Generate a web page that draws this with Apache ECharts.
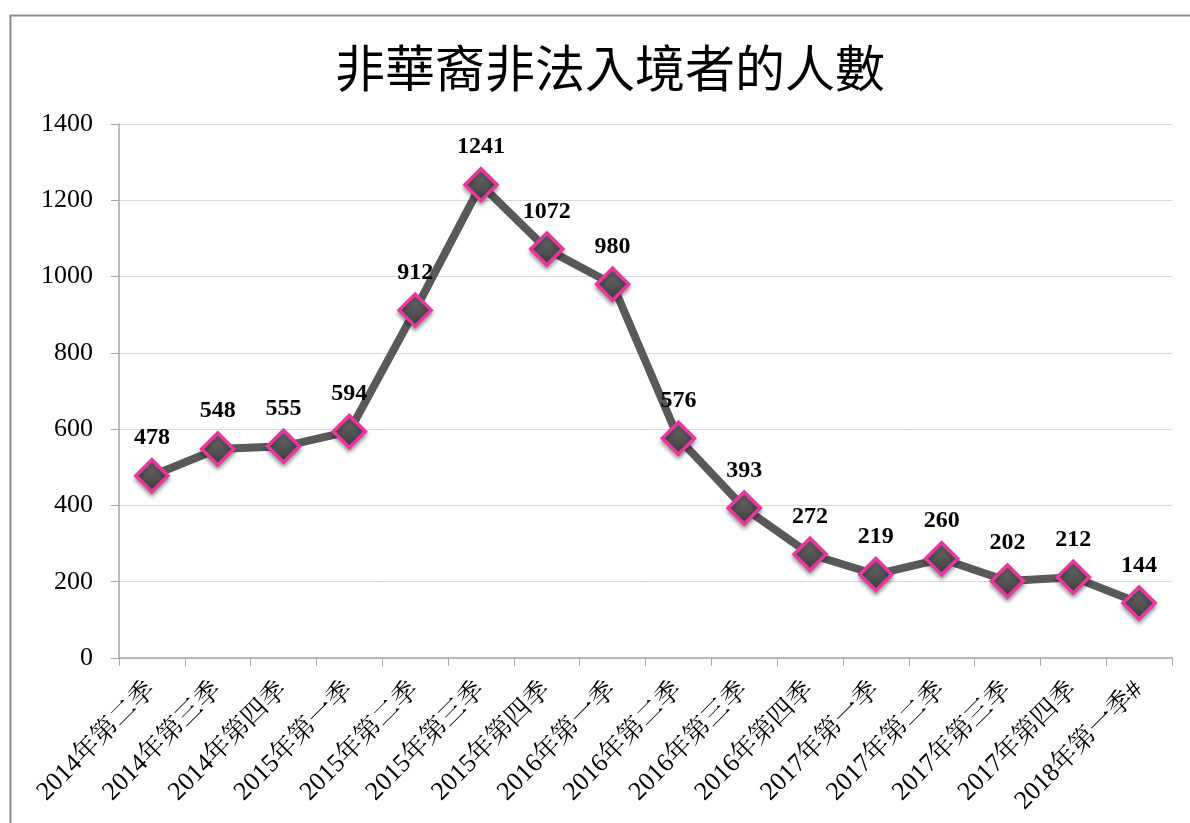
<!DOCTYPE html>
<html><head><meta charset="utf-8">
<script src="https://cdn.jsdelivr.net/npm/echarts@6/dist/echarts.min.js"></script>
<style>html,body{margin:0;padding:0;background:#fff}#c{width:1190px;height:823px}</style>
</head><body><div id="c"></div>
<script>
const title = '非華裔非法入境者的人數';
const categories = ['2014年第二季','2014年第三季','2014年第四季','2015年第一季','2015年第二季','2015年第三季','2015年第四季','2016年第一季','2016年第二季','2016年第三季','2016年第四季','2017年第一季','2017年第二季','2017年第三季','2017年第四季','2018年第一季#'];
const values = [478,548,555,594,912,1241,1072,980,576,393,272,219,260,202,212,144];
const yTicks = {min:0, max:1400, interval:200};

const chart = echarts.init(document.getElementById('c'));
chart.setOption({
  animation:false,
  backgroundColor:'#fff',
  graphic:[{type:'rect',left:8,top:13,shape:{width:1200,height:900},style:{fill:'none',stroke:'#8c8c8c',lineWidth:2}}],
  title:{text:title,left:605,top:38,textAlign:'center',textStyle:{fontFamily:'Noto Sans CJK TC',fontWeight:'normal',fontSize:50,color:'#000'}},
  grid:{left:119,right:18,top:124,bottom:165,containLabel:false},
  xAxis:{type:'category',data:categories,boundaryGap:true,
    axisLine:{lineStyle:{color:'#a6a6a6',width:1.5}},
    axisTick:{show:true,length:8,lineStyle:{color:'#a6a6a6'},alignWithLabel:false},
    axisLabel:{rotate:45,interval:0,margin:28,fontSize:26,color:'#000',fontFamily:'Liberation Serif, Noto Serif CJK TC, Noto Sans CJK TC'}},
  yAxis:{type:'value',min:yTicks.min,max:yTicks.max,interval:yTicks.interval,
    axisLine:{show:true,lineStyle:{color:'#a6a6a6',width:1.5}},
    axisTick:{show:true,length:8,lineStyle:{color:'#a6a6a6'}},
    axisLabel:{margin:26,fontSize:26,color:'#000',fontFamily:'Liberation Serif',formatter:function(v){return String(v);}},
    splitLine:{lineStyle:{color:'#d9d9d9',width:1}}},
  series:[{type:'line',data:values,symbol:'diamond',symbolSize:32,
    lineStyle:{color:'#595959',width:8},
    itemStyle:{color:{type:'linear',x:0,y:0,x2:0,y2:1,colorStops:[{offset:0,color:'#7a7a7a'},{offset:0.5,color:'#555'},{offset:1,color:'#3a3a3a'}]},
      borderColor:'#e8379d',borderWidth:3.5,shadowColor:'rgba(0,0,0,0.35)',shadowBlur:4,shadowOffsetY:3},
    label:{show:true,position:'top',distance:8,fontFamily:'Liberation Serif',fontWeight:'bold',fontSize:24,color:'#000'}}]
});
</script></body></html>
